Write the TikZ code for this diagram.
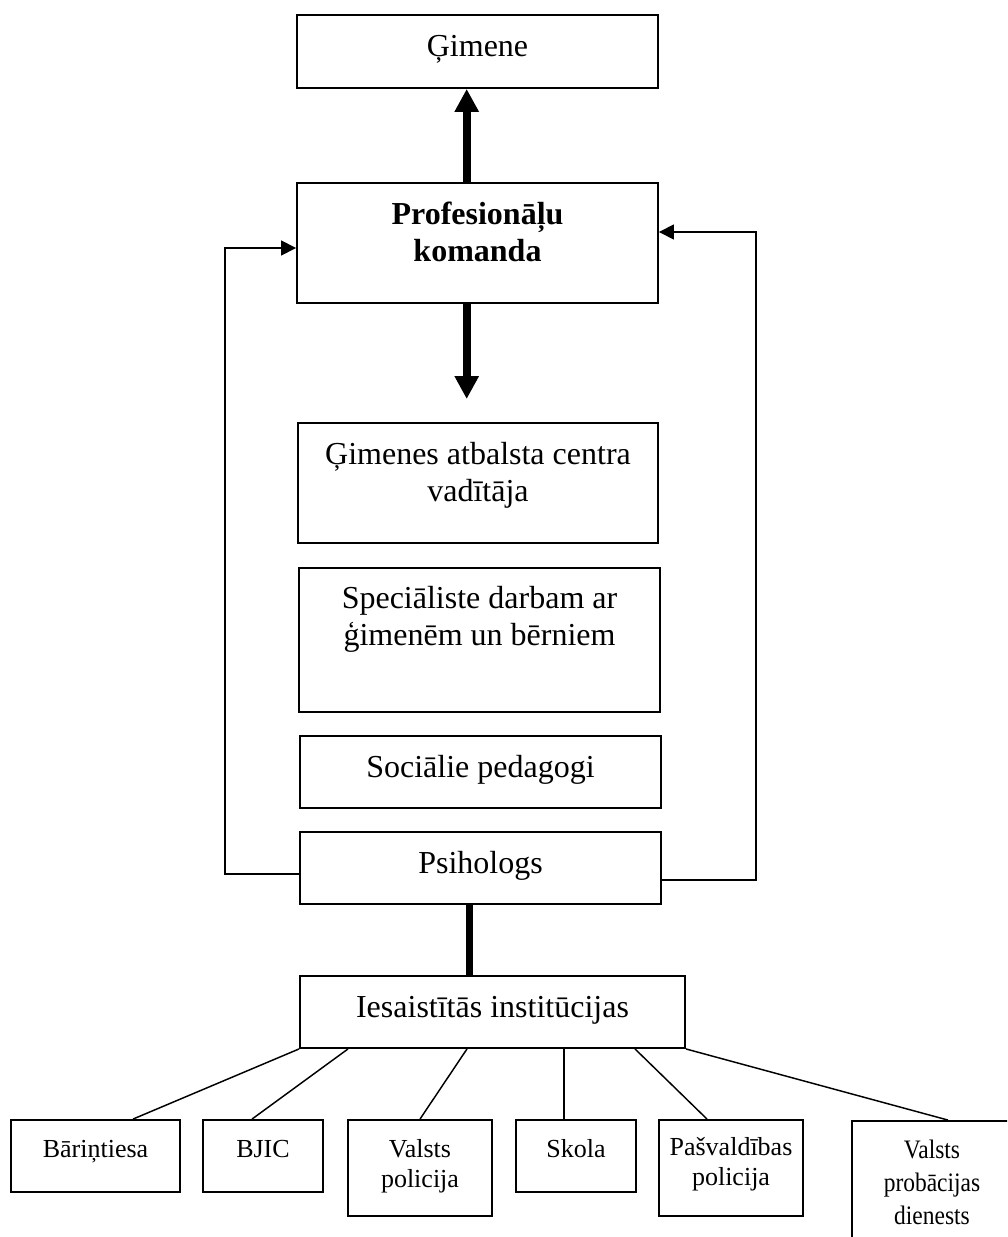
\documentclass[tikz,border=0pt]{standalone}
\usepackage{fontspec}
\setmainfont{Liberation Serif}
\usetikzlibrary{arrows.meta,fit}

% centred lines whose baseline is that of the first line
\newcommand\txtrows[1]{\begin{tabular}[t]{@{}c@{}}#1\end{tabular}}

\begin{document}
\begin{tikzpicture}[x=0.75pt,y=-0.75pt,
  box/.style={draw, line width=1.4pt, inner sep=0pt},
  big/.style={font=\fontsize{24pt}{27.75pt}\selectfont, inner sep=0pt, anchor=base},
  small/.style={font=\fontsize{19.5pt}{22.5pt}\selectfont, inner sep=0pt, anchor=base},
  link/.style={line width=1.1pt},
  feedback/.style={line width=1.1pt, -{Triangle[length=11.25pt, width=11.25pt]}},
  heavy/.style={line width=6pt, -{Triangle[length=17.25pt, width=17.25pt]}},
  heavyline/.style={line width=5.5pt}]

\clip (0,0) rectangle (1007,1237);
\fill[white] (0,0) rectangle (1007,1237);

% --- central column ---
\node[box, fit={(297,15)(658,88)}] (gimene) {};
\node[big] (gimene-t) at (477.5,57) {Ģimene};

\node[box, fit={(297,183)(658,303)}] (prof) {};
\node[big] (prof-t) at (477.5,225) {\bfseries\txtrows{Profesionāļu\\komanda}};

\node[box, fit={(298,423)(658,543)}] (gac) {};
\node[big] (gac-t) at (478,464) {\txtrows{Ģimenes atbalsta centra\\vadītāja}};

\node[box, fit={(299,568)(660,712)}] (spec) {};
\node[big] (spec-t) at (479.5,608) {\txtrows{Speciāliste darbam ar\\ģimenēm un bērniem}};

\node[box, fit={(300,736)(661,808)}] (soc) {};
\node[big] (soc-t) at (480.5,777) {Sociālie pedagogi};

\node[box, fit={(300,832)(661,904)}] (psih) {};
\node[big] (psih-t) at (480.5,873) {Psihologs};

\node[box, fit={(300,976)(685,1048)}] (inst) {};
\node[big] (inst-t) at (492.5,1017) {Iesaistītās institūcijas};

% --- institutions ---
\node[box, fit={(11,1120)(180,1192)}] (bar) {};
\node[small] (bar-t) at (95.5,1157) {Bāriņtiesa};

\node[box, fit={(203,1120)(323,1192)}] (bjic) {};
\node[small] (bjic-t) at (263,1157) {BJIC};

\node[box, fit={(348,1120)(492,1216)}] (vp) {};
\node[small] (vp-t) at (420,1157) {\txtrows{Valsts\\policija}};

\node[box, fit={(516,1120)(636,1192)}] (skola) {};
\node[small] (skola-t) at (576,1157) {Skola};

\node[box, fit={(659,1120)(803,1216)}] (pasv) {};
\node[small] (pasv-t) at (731,1155) {\txtrows{Pašvaldības\\policija}};

\node[box, fit={(852,1121)(1013,1262)}] (prob) {};
\node[inner sep=0pt, anchor=base, font=\fontsize{20pt}{24.75pt}\selectfont] (prob-t) at (932,1158)
  {\scalebox{0.88}[1]{\txtrows{Valsts\\probācijas\\dienests}}};

% --- heavy arrows ---
\coordinate (axis) at (466.7,0);
\coordinate (downtip) at (466.7,399);
\draw[heavy] (prof.north -| axis) -- (gimene.south -| axis);
\draw[heavy] (prof.south -| axis) -- (downtip);
\draw[heavyline] (psih.south -| 469.5,0) -- (inst.north -| 469.5,0);

% --- feedback loops ---
\draw[feedback] ([yshift=-4.5pt]psih.west) -- ++(-74,0) |- ([yshift=-3.75pt]prof.west);
\draw[feedback] ([yshift=-9pt]psih.east) -- ++(94,0) |- ([yshift=8.25pt]prof.east);

% --- links to institutions ---
\draw[link] (inst.south west) -- (bar.north -| 133,0);
\draw[link] (inst.south -| 348,0) -- (bjic.north -| 252,0);
\draw[link] (inst.south -| 467,0) -- (vp.north);
\draw[link] (inst.south -| 564,0) -- (skola.north -| 564,0);
\draw[link] (inst.south -| 635,0) -- (pasv.north -| 707,0);
\draw[link] (inst.south east) -- (prob.north -| 948,0);

\end{tikzpicture}
\end{document}
